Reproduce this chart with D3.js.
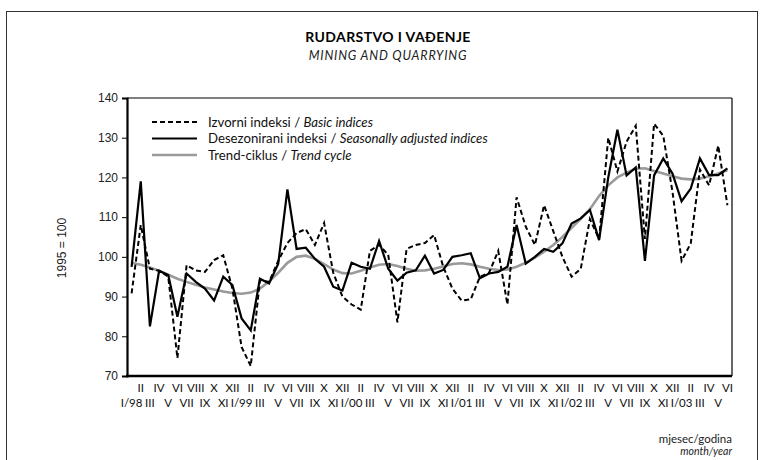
<!DOCTYPE html>
<html>
<head>
<meta charset="utf-8">
<script src="https://cdn.jsdelivr.net/npm/d3@7"></script>
<style>
  body { margin: 0; background: #fff; }
  svg { display: block; }
</style>
</head>
<body>
<div id="chart"></div>
<script>
// Monthly indices, I/1998 - VI/2003 (1995 = 100)
const months = ["I", "II", "III", "IV", "V", "VI", "VII", "VIII", "IX", "X", "XI", "XII"];
const years = ["98", "99", "00", "01", "02", "03"];

const basicIndices = [
    90.8, 108, 97, 96.5, 95, 74.5, 97.9, 96.6, 96.2, 99.2, 100.4, 92,
    77.3, 72.5, 94.1, 93.7, 99, 103.5, 106, 107, 103, 108.5, 96, 90,
    88, 86.7, 101.5, 103, 100.5, 83.5, 102, 103, 103.5, 105.5, 97.5, 92,
    89, 89.3, 95, 96, 101.5, 88, 115, 107.6, 103, 113, 106.5, 100,
    95, 97, 109.5, 104.5, 130, 121.5, 129, 133, 104.5, 133.5, 130.5, 116.5,
    99, 103.4, 122, 118, 128, 113
];
const seasonallyAdjusted = [
    97.5, 119, 82.5, 96.5, 95.4, 84.9, 95.8, 93.7, 92, 89, 95, 92.9,
    84.5, 81.5, 94.5, 93.3, 98.3, 117, 102, 102.3, 99.5, 97.5, 92.5, 91.5,
    98.5, 97.5, 97, 104, 97, 94, 96, 96.6, 100.3, 95.8, 96.7, 100,
    100.4, 100.9, 94.6, 95.8, 96.2, 97.5, 108, 98.3, 100, 102, 101.3, 103.4,
    108.4, 109.7, 111.8, 104.2, 120, 132, 120.5, 122.5, 99, 120.5, 124.8, 121,
    114, 117.2, 124.8, 120.6, 120.6, 122.3
];
const trendCycle = [
    98.5, 98, 97.3, 96.5, 95.5, 94.5, 93.7, 93, 92.3, 91.8, 91.3, 90.9,
    90.7, 91, 92, 93.8, 96, 98.5, 100, 100.3, 99.5, 98.2, 96.8, 95.9,
    95.8, 96.5, 97.3, 98, 98.2, 97.7, 97, 96.5, 96.6, 97, 97.6, 98.2,
    98.4, 98.1, 97.5, 97, 96.7, 96.8, 97.5, 98.5, 99.8, 101.3, 103, 105,
    107.3, 109.6, 112, 115.3, 118, 120, 121.2, 122.2, 122.3, 121.6, 121, 120.3,
    119.7, 119.5, 119.7, 120.3, 121, 121.8
];
const yTicks = [70, 80, 90, 100, 110, 120, 130, 140];

const width = 768;
const height = 460;
const margin = {left: 127, right: 36, top: 98, bottom: 84};

// Label for every month: "I/98" for January, roman numeral otherwise
const labels = basicIndices.map((d, i) => {
    const m = i % 12;
    return m === 0 ? months[0] + "/" + years[Math.floor(i / 12)] : months[m];
});

const svg = d3.select("#chart").append("svg")
    .attr("width", width)
    .attr("height", height);

// Outer frame
svg.append("rect")
    .attr("x", 6.5).attr("y", 11.5)
    .attr("width", 751).attr("height", 470)
    .attr("fill", "none")
    .attr("stroke", "#333")
    .attr("stroke-width", 1);

const x = d3.scaleBand()
    .domain(d3.range(labels.length))
    .range([margin.left, width - margin.right])
    .padding(0);
const xc = i => x(i) + x.bandwidth() / 2;

const y = d3.scaleLinear()
    .domain([70, 140])
    .range([height - margin.bottom, margin.top]);

// Titles
svg.append("text")
    .attr("x", 388).attr("y", 42)
    .attr("text-anchor", "middle")
    .attr("font-family", "Lato, sans-serif")
    .attr("font-weight", "bold")
    .attr("font-size", 14)
    .attr("letter-spacing", 0.4)
    .text("RUDARSTVO I VAĐENJE");
svg.append("text")
    .attr("x", 388).attr("y", 60)
    .attr("text-anchor", "middle")
    .attr("font-family", "Lato, sans-serif")
    .attr("font-style", "italic")
    .attr("font-size", 12.5)
    .attr("letter-spacing", 0.8)
    .attr("fill", "#222")
    .text("MINING AND QUARRYING");

// Plot frame: thin top and right, thick left and bottom
svg.append("line")
    .attr("x1", margin.left).attr("x2", width - margin.right)
    .attr("y1", margin.top).attr("y2", margin.top)
    .attr("stroke", "#000").attr("stroke-width", 1.2);
svg.append("line")
    .attr("x1", width - margin.right).attr("x2", width - margin.right)
    .attr("y1", margin.top).attr("y2", height - margin.bottom)
    .attr("stroke", "#000").attr("stroke-width", 1.2);

// Y axis
const yAxis = svg.append("g")
    .attr("transform", `translate(${margin.left},0)`)
    .call(d3.axisLeft(y).tickValues(yTicks).tickSize(5).tickPadding(4).tickFormat(d3.format("d")));
yAxis.select(".domain").attr("stroke-width", 2.2);
yAxis.selectAll(".tick text")
    .attr("font-family", "'Liberation Sans', Arial, sans-serif")
    .attr("font-size", 12)
    .attr("fill", "#222");

svg.append("line")
    .attr("x1", margin.left - 1).attr("x2", width - margin.right)
    .attr("y1", y(70)).attr("y2", y(70))
    .attr("stroke", "#000").attr("stroke-width", 2.6);

svg.append("text")
    .attr("transform", "translate(66,248) rotate(-90)")
    .attr("text-anchor", "middle")
    .attr("font-family", "'Liberation Sans', Arial, sans-serif")
    .attr("font-size", 12)
    .attr("fill", "#222")
    .text("1995 = 100");

// Month labels, staggered in two rows
svg.append("g")
    .selectAll("text")
    .data(labels)
    .join("text")
    .attr("x", (d, i) => xc(i))
    .attr("y", (d, i) => i % 2 === 1 ? 392 : 407)
    .attr("text-anchor", "middle")
    .attr("font-family", "Lato, sans-serif")
    .attr("font-size", 11.5)
    .attr("fill", "#111")
    .text(d => d);

svg.append("text")
    .attr("x", 732).attr("y", 443)
    .attr("text-anchor", "end")
    .attr("font-family", "Lato, sans-serif")
    .attr("font-size", 11.5)
    .attr("fill", "#222")
    .text("mjesec/godina");
svg.append("text")
    .attr("x", 732).attr("y", 455)
    .attr("text-anchor", "end")
    .attr("font-family", "Lato, sans-serif")
    .attr("font-style", "italic")
    .attr("font-size", 10.5)
    .attr("fill", "#222")
    .text("month/year");

// Series
const series = [
    {name: "Izvorni indeksi / ", en: "Basic indices", values: basicIndices,
     stroke: "#000", width: 2, dash: "5,3"},
    {name: "Desezonirani indeksi / ", en: "Seasonally adjusted indices", values: seasonallyAdjusted,
     stroke: "#000", width: 2.2, dash: null},
    {name: "Trend-ciklus / ", en: "Trend cycle", values: trendCycle,
     stroke: "#9a9a9a", width: 2.6, dash: null}
];

const line = d3.line()
    .x((d, i) => xc(i))
    .y(d => y(d));

// Draw trend first so black lines sit on top
[series[2], series[0], series[1]].forEach(s => {
    svg.append("path")
        .datum(s.values)
        .attr("d", line)
        .attr("fill", "none")
        .attr("stroke", s.stroke)
        .attr("stroke-width", s.width)
        .attr("stroke-linejoin", "miter")
        .attr("stroke-dasharray", s.dash);
});

// Legend
const legend = svg.append("g");
series.forEach((s, i) => {
    const ly = 122 + i * 16.5;
    legend.append("line")
        .attr("x1", 152).attr("x2", 197)
        .attr("y1", ly).attr("y2", ly)
        .attr("stroke", s.stroke)
        .attr("stroke-width", s.width)
        .attr("stroke-dasharray", s.dash);
    const t = legend.append("text")
        .attr("x", 208).attr("y", ly + 4.5)
        .attr("font-family", "Lato, sans-serif")
        .attr("font-size", 13.2)
        .attr("fill", "#111");
    t.append("tspan").text(s.name);
    t.append("tspan").attr("font-style", "italic").text(s.en);
});
</script>
</body>
</html>
